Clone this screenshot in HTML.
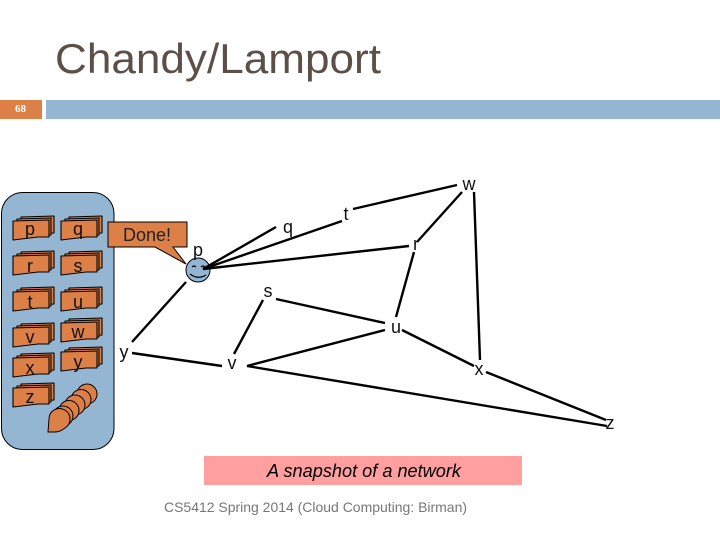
<!DOCTYPE html>
<html>
<head>
<meta charset="utf-8">
<style>
html,body{margin:0;padding:0;background:#fff;width:720px;height:540px;overflow:hidden}
svg{display:block}
text{font-family:"Liberation Sans",sans-serif}
.c{fill:#DD8047;stroke:#000;stroke-width:1.1;stroke-linejoin:round}
.l{font-size:18px;fill:#111;text-anchor:middle}
.n{font-size:18px;fill:#111;text-anchor:middle}
.e{stroke:#000;stroke-width:2.4;fill:none}
</style>
</head>
<body>
<svg width="720" height="540" viewBox="0 0 720 540" xmlns="http://www.w3.org/2000/svg">
<defs>
<g id="card">
<polygon class="c" points="8,-4 41,-5 41,12 8,14"/>
<polygon class="c" points="4,-2 38,-3 38,14 4,16"/>
<polygon class="c" points="0,0 36,-1 36,16 25,16 0,19"/>
</g>
</defs>

<text x="55" y="73" font-size="42" fill="#5c4f48" textLength="326" lengthAdjust="spacingAndGlyphs">Chandy/Lamport</text>
<rect x="0" y="100" width="42" height="19" fill="#DD8047"/>
<rect x="46" y="100" width="674" height="19" fill="#94B6D2"/>
<text x="20.5" y="112" font-size="11" font-weight="bold" fill="#fff" text-anchor="middle" style="font-family:'Liberation Serif',serif">68</text>

<rect x="1.5" y="192.500" width="112.500" height="257" rx="21" ry="21" fill="#94B6D2" stroke="#000" stroke-width="1"/>

<use href="#card" x="13" y="221"/><text class="l" x="30" y="235">p</text>
<use href="#card" x="61" y="221"/><text class="l" x="78" y="235">q</text>
<use href="#card" x="13" y="256"/><text class="l" x="30" y="272">r</text>
<use href="#card" x="61" y="256"/><text class="l" x="78" y="272">s</text>
<use href="#card" x="13" y="292"/><text class="l" x="30" y="308">t</text>
<use href="#card" x="61" y="292"/><text class="l" x="78" y="308">u</text>
<use href="#card" x="13" y="328"/><text class="l" x="30" y="343">v</text>
<use href="#card" x="61" y="323"/><text class="l" x="78" y="338">w</text>
<use href="#card" x="13" y="358"/><text class="l" x="30" y="374">x</text>
<use href="#card" x="61" y="352"/><text class="l" x="78" y="368">y</text>
<use href="#card" x="13" y="388"/><text class="l" x="30" y="403">z</text>

<g fill="#DD8047" stroke="#000" stroke-width="1">
<circle cx="87" cy="394" r="10"/>
<circle cx="81" cy="399.500" r="10"/>
<circle cx="75" cy="405" r="10"/>
<circle cx="69" cy="410.500" r="10"/>
<circle cx="63" cy="416" r="10"/>
<path d="M48,432 L49,419 A10.500,10.500 0 1 1 65,428 Q60,432 55,432 Z"/>
</g>

<polygon points="108,222 187,222 187,247 173,247 186,264 155,247 108,247" fill="#DD8047" stroke="#000" stroke-width="1"/>
<text x="147" y="241" font-size="18" fill="#222" text-anchor="middle">Done!</text>

<circle cx="198" cy="270" r="12" fill="#94B6D2" stroke="#000" stroke-width="1"/>
<path d="M192,267 q2,-2 4,0 M201,267 q2,-2 4,0" stroke="#000" fill="none" stroke-width="1.2"/>
<path d="M190,274 q8,6 16,1" stroke="#000" fill="none" stroke-width="1.2"/>

<g>
<line class="e" x1="203" y1="269" x2="276" y2="227"/>
<line class="e" x1="203" y1="269" x2="342" y2="221"/>
<line class="e" x1="203" y1="269" x2="409" y2="246"/>
<line class="e" x1="353" y1="209" x2="457" y2="185"/>
<line class="e" x1="417" y1="242" x2="462" y2="192"/>
<line class="e" x1="474" y1="192" x2="480" y2="360"/>
<line class="e" x1="414" y1="252" x2="396" y2="317"/>
<line class="e" x1="276" y1="299" x2="385" y2="323"/>
<line class="e" x1="263" y1="300" x2="234" y2="354"/>
<line class="e" x1="247" y1="366" x2="385" y2="330"/>
<line class="e" x1="247" y1="366" x2="607" y2="426"/>
<line class="e" x1="402" y1="330" x2="474" y2="366"/>
<line class="e" x1="486" y1="372" x2="606" y2="420"/>
<line class="e" x1="132" y1="353" x2="222" y2="366"/>
<line class="e" x1="132" y1="342" x2="186" y2="282"/>
</g>

<text class="n" x="198" y="256">p</text>
<text class="n" x="288" y="233">q</text>
<text class="n" x="346" y="220">t</text>
<text class="n" x="416" y="250">r</text>
<text class="n" x="469" y="190">w</text>
<text class="n" x="268" y="297">s</text>
<text class="n" x="396" y="333">u</text>
<text class="n" x="232" y="369">v</text>
<text class="n" x="124" y="358">y</text>
<text class="n" x="479" y="375">x</text>
<text class="n" x="610" y="429">z</text>

<rect x="204" y="456" width="318" height="29" fill="#FF9F9F"/>
<text x="364" y="477" font-size="18" font-style="italic" fill="#000" text-anchor="middle" textLength="194" lengthAdjust="spacingAndGlyphs">A snapshot of a network</text>
<text x="164" y="512" font-size="14" fill="#777" textLength="303" lengthAdjust="spacingAndGlyphs">CS5412 Spring 2014 (Cloud Computing: Birman)</text>
</svg>
</body>
</html>
